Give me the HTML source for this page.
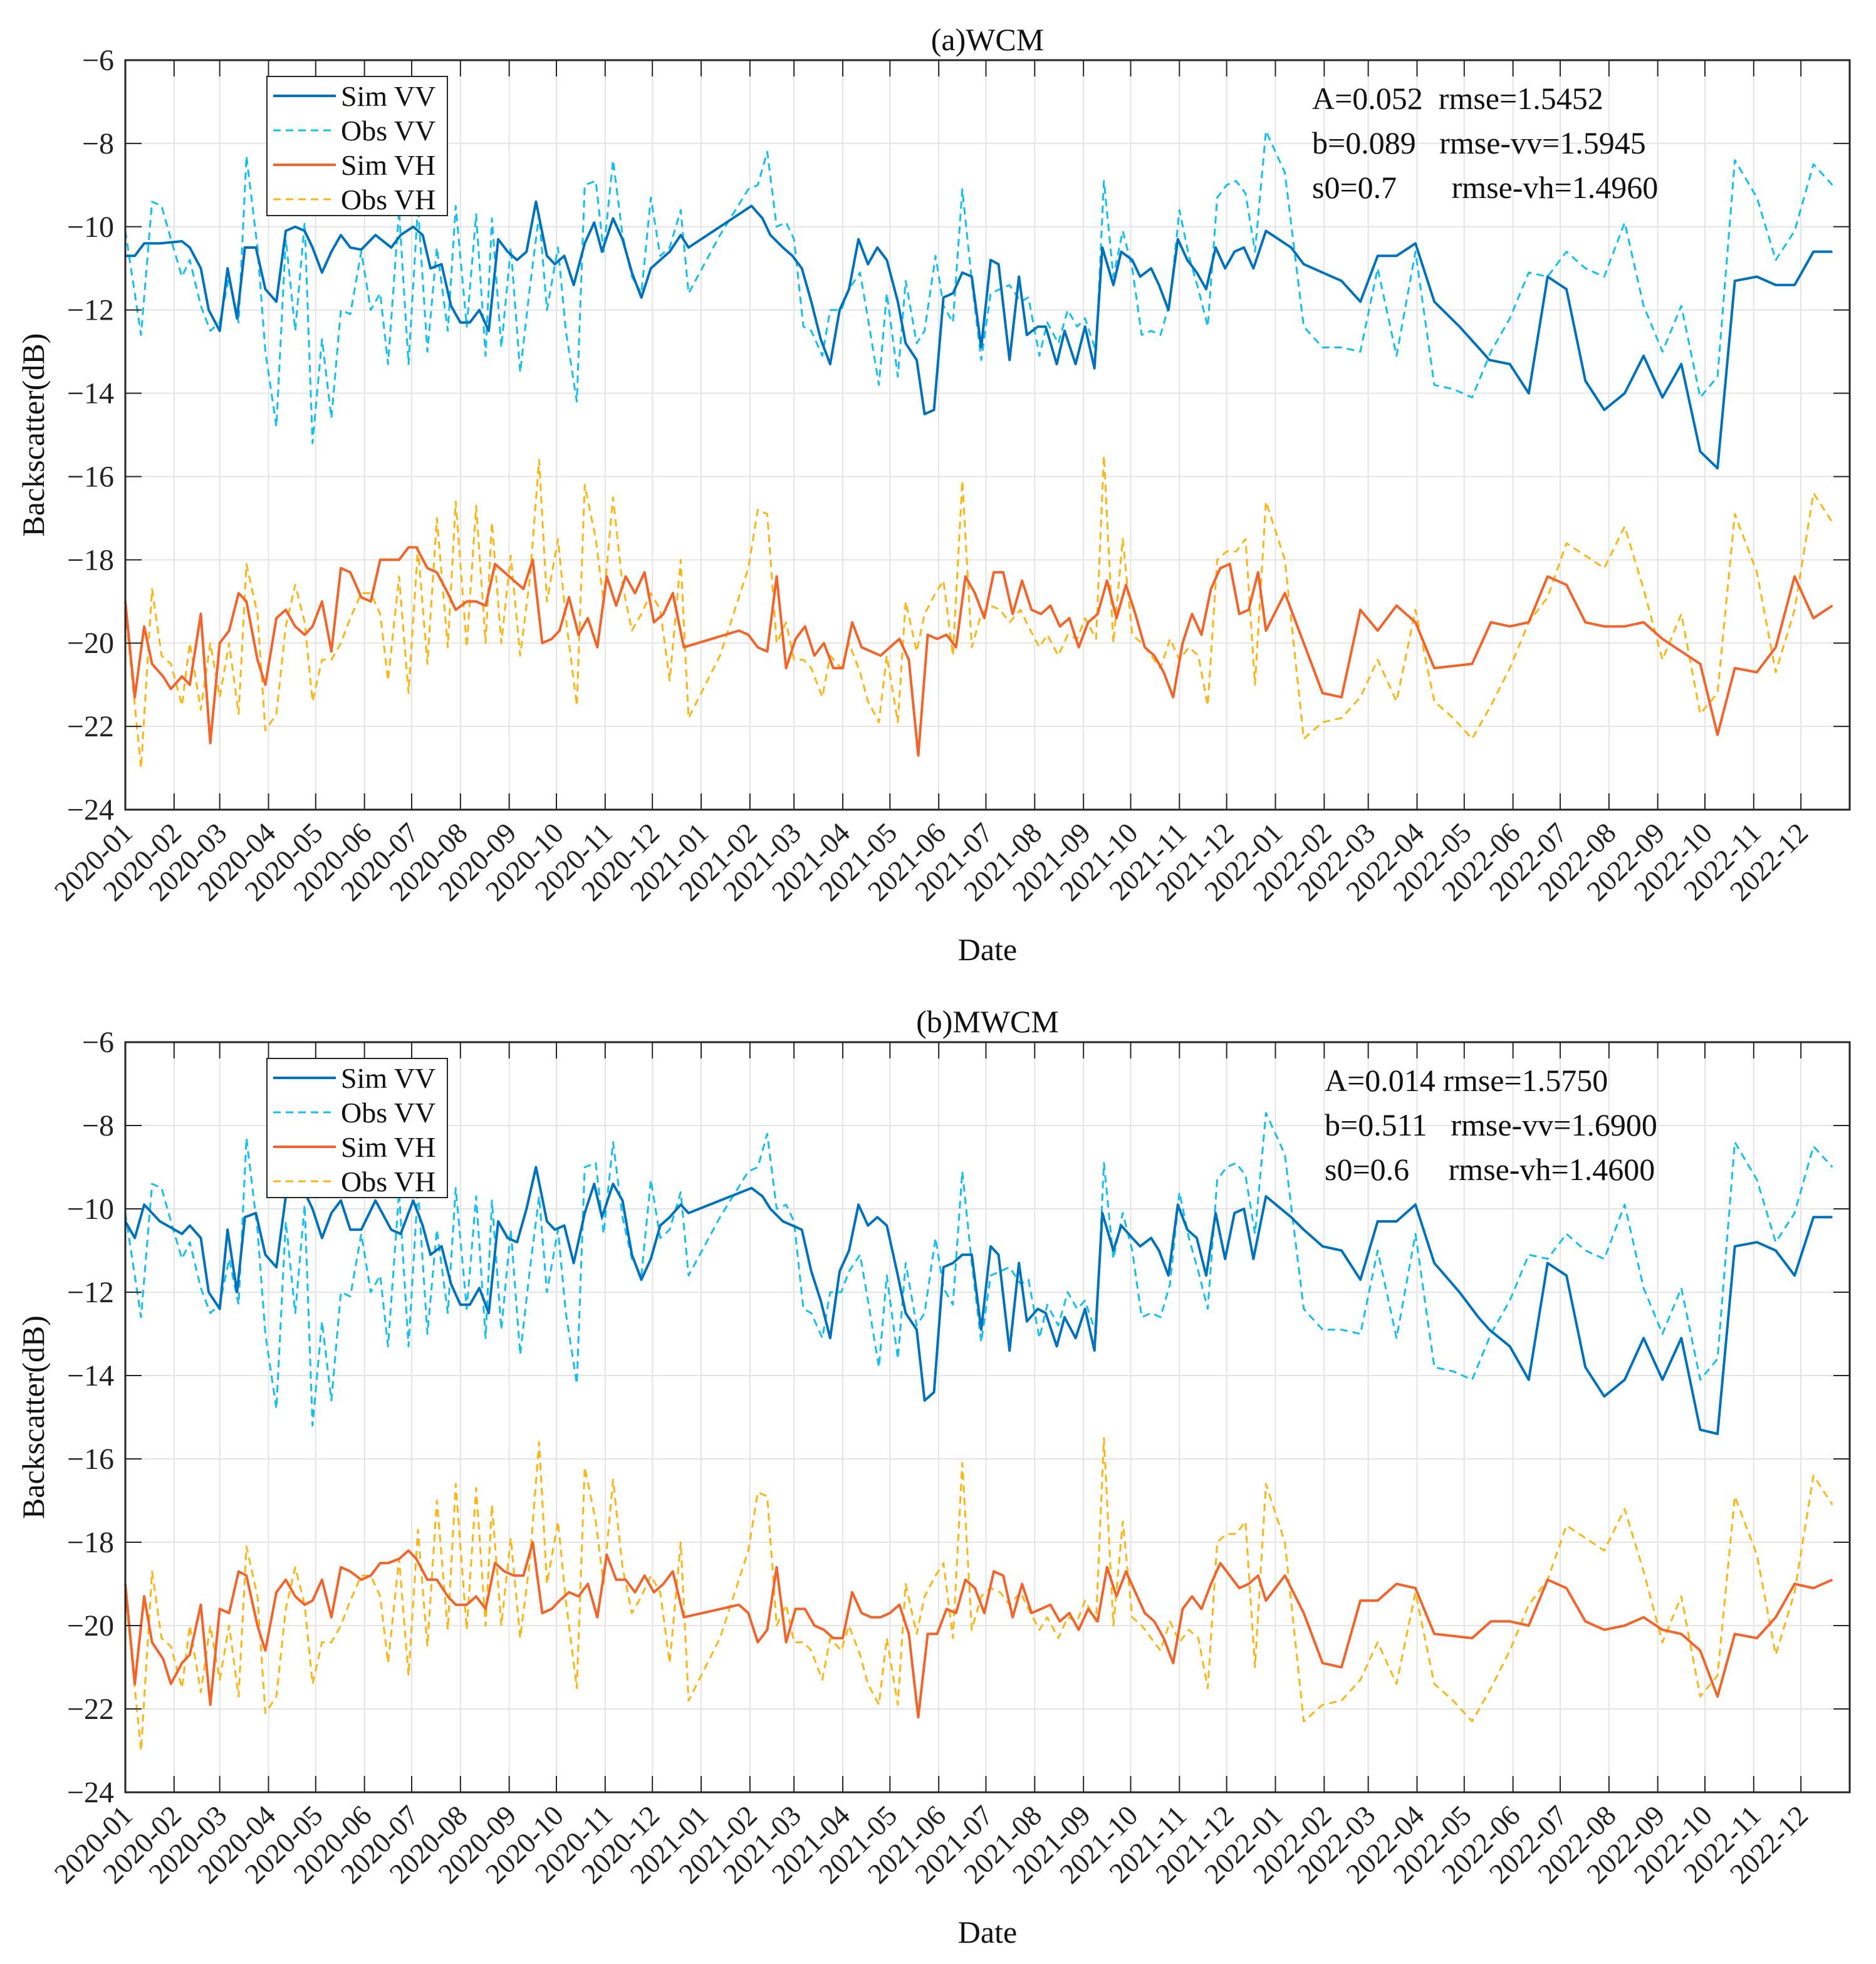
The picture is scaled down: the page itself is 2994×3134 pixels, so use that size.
<!DOCTYPE html>
<html><head><meta charset="utf-8"><style>
html,body{margin:0;padding:0;background:#fff}
svg{display:block;font-family:"Liberation Serif",serif}
</style></head><body>
<svg id="chart" width="2994" height="3134" viewBox="0 0 2994 3134" xmlns="http://www.w3.org/2000/svg"></svg>
<script>
// ---- data ----
const monthLabels = ["2020-01","2020-02","2020-03","2020-04","2020-05","2020-06","2020-07","2020-08","2020-09","2020-10","2020-11","2020-12","2021-01","2021-02","2021-03","2021-04","2021-05","2021-06","2021-07","2021-08","2021-09","2021-10","2021-11","2021-12","2022-01","2022-02","2022-03","2022-04","2022-05","2022-06","2022-07","2022-08","2022-09","2022-10","2022-11","2022-12"];
const yTicks = [-6,-8,-10,-12,-14,-16,-18,-20,-22,-24];
// days since 2020-01-01
const simVVDays = [0,6,12,22,36,41,48,53,60,65,71,76,83,89,96,102,108,114,119,125,131,137,143,150,159,169,175,183,189,194,201,207,213,219,225,231,237,243,249,255,261,268,273,279,285,292,298,303,310,316,322,328,334,340,346,353,358,
398,405,410,418,424,430,436,442,448,454,460,466,472,478,484,491,496,503,508,514,520,526,532,538,544,550,555,562,568,573,580,585,592,597,604,610,616,621,628,633,640,645,652,657,663,669,675,681,687,693,699,705,711,717,725,
741,749,761,773,785,796,808,820,832,848,860,867,880,892,904,916,928,940,953,965,977,989,1001,1012,1023,1037,1049,1061,1073,1085];
const simVH_Days = [0,6,12,17,24,29,36,41,48,54,60,66,72,77,84,89,96,102,108,114,119,125,131,137,143,150,156,162,167,174,180,185,192,198,205,210,217,223,229,235,241,247,253,259,265,271,276,282,288,294,300,306,312,318,324,330,336,342,348,355,
390,396,402,408,414,420,426,432,438,444,450,456,462,468,474,480,486,492,498,504,510,516,522,528,534,540,546,552,558,564,570,576,582,588,594,600,606,612,618,624,630,636,642,648,654,660,666,672,678,684,690,696,702,708,714,720,725,
737,749,761,773,785,796,808,820,832,856,868,880,892,904,916,928,940,953,965,977,989,1001,1012,1023,1037,1049,1061,1073,1085];
const obsDays = [0,10,17,23,29,36,41,48,54,60,66,72,77,84,89,96,102,108,114,119,125,131,137,143,150,156,162,167,174,180,186,192,198,205,210,217,223,229,233,239,245,251,257,263,268,275,280,287,292,299,304,310,316,322,328,334,340,346,353,358,378,
396,402,408,414,420,425,431,436,443,448,455,460,467,472,479,484,491,496,503,508,515,520,526,532,538,544,550,556,562,569,574,581,586,593,599,605,610,617,622,628,634,640,646,652,658,664,670,676,682,688,694,700,706,712,718,725,
737,749,761,773,785,796,808,820,832,844,856,868,880,892,904,916,928,940,953,965,977,989,1001,1012,1023,1037,1049,1061,1073,1085];

const obsVV = [-10.1,-12.6,-9.4,-9.5,-10.3,-11.2,-10.8,-11.9,-12.5,-12.3,-11.2,-12.3,-8.3,-10.5,-13.0,-14.8,-10.3,-12.5,-9.9,-15.2,-12.7,-14.6,-12.0,-12.1,-10.6,-12.0,-11.6,-13.3,-9.6,-13.3,-9.5,-13.0,-10.5,-12.5,-9.5,-12.4,-9.7,-13.1,-9.8,-12.9,-10.5,-13.5,-11.5,-9.7,-12.0,-10.5,-12.5,-14.2,-9.0,-8.9,-10.6,-8.4,-10.2,-11.2,-11.6,-9.3,-10.7,-10.5,-9.6,-11.6,-10.2,
-9.1,-9.0,-8.2,-10.0,-9.9,-10.3,-12.4,-12.5,-13.1,-12.0,-12.0,-11.5,-11.1,-12.2,-13.8,-11.6,-13.6,-11.3,-12.8,-12.5,-10.7,-11.9,-12.3,-9.1,-11.3,-13.2,-11.6,-11.5,-11.4,-11.8,-11.7,-13.1,-12.3,-12.8,-12.0,-12.4,-12.2,-13.0,-8.9,-11.2,-10.1,-11.0,-12.6,-12.5,-12.6,-11.8,-9.6,-10.7,-11.5,-12.4,-9.3,-9.0,-8.9,-9.2,-10.6,-7.7,
-8.7,-12.4,-12.9,-12.9,-13.0,-11.0,-13.1,-10.6,-13.8,-13.9,-14.1,-13.0,-12.2,-11.1,-11.2,-10.6,-11.0,-11.2,-9.9,-11.9,-13.0,-11.9,-14.1,-13.6,-8.4,-9.3,-10.8,-10.1,-8.5,-9.0];
const obsVH = [-19.2,-23.0,-18.7,-20.3,-20.5,-21.5,-20.0,-21.6,-20.0,-21.3,-20.0,-21.7,-18.1,-19.3,-22.1,-21.7,-19.6,-18.6,-19.5,-21.4,-20.4,-20.4,-20.0,-19.4,-18.8,-18.8,-19.3,-20.9,-18.4,-21.2,-17.7,-20.5,-17.0,-20.1,-16.6,-20.1,-16.7,-20.0,-17.1,-20.0,-17.9,-20.3,-18.5,-15.6,-19.0,-17.5,-19.4,-21.5,-16.2,-17.5,-19.0,-16.5,-18.6,-19.7,-19.3,-18.8,-19.2,-20.9,-18.0,-21.8,-20.3,
-18.2,-16.8,-16.9,-20.0,-19.5,-20.4,-20.4,-20.6,-21.3,-20.3,-20.6,-20.0,-20.7,-21.4,-21.9,-20.3,-21.9,-19.0,-20.2,-19.3,-18.8,-18.5,-20.3,-16.1,-20.1,-19.3,-19.1,-19.2,-19.5,-19.2,-19.6,-20.1,-19.8,-20.3,-19.8,-19.9,-19.4,-19.9,-15.5,-20.0,-17.5,-19.8,-20.0,-20.3,-20.6,-19.9,-20.4,-20.1,-20.3,-21.5,-18.0,-17.8,-17.8,-17.5,-21.0,-16.6,
-18.0,-22.3,-21.9,-21.8,-21.3,-20.4,-21.4,-19.2,-21.4,-21.8,-22.3,-21.5,-20.6,-19.5,-18.9,-17.6,-17.9,-18.2,-17.2,-18.7,-20.4,-19.3,-21.7,-21.2,-16.9,-18.3,-20.7,-19.2,-16.4,-17.1];

const simVV_WCM = [-10.7,-10.7,-10.4,-10.4,-10.35,-10.5,-11.0,-12.0,-12.5,-11.0,-12.2,-10.5,-10.5,-11.5,-11.8,-10.1,-10.0,-10.1,-10.5,-11.1,-10.6,-10.2,-10.5,-10.55,-10.2,-10.5,-10.2,-10.0,-10.2,-11.0,-10.9,-11.9,-12.3,-12.3,-12.0,-12.5,-10.3,-10.6,-10.8,-10.6,-9.4,-10.7,-10.9,-10.7,-11.4,-10.4,-9.9,-10.6,-9.8,-10.3,-11.1,-11.7,-11.0,-10.8,-10.6,-10.2,-10.5,
-9.5,-9.8,-10.2,-10.5,-10.7,-11.0,-11.8,-12.7,-13.3,-12.0,-11.5,-10.3,-10.9,-10.5,-10.8,-11.8,-12.8,-13.2,-14.5,-14.4,-11.7,-11.6,-11.1,-11.2,-12.9,-10.8,-10.9,-13.2,-11.2,-12.6,-12.4,-12.4,-13.3,-12.5,-13.3,-12.4,-13.4,-10.5,-11.4,-10.6,-10.8,-11.2,-11.0,-11.4,-12.0,-10.3,-10.8,-11.1,-11.5,-10.5,-11.0,-10.6,-10.5,-11.0,-10.1,
-10.5,-10.9,-11.1,-11.3,-11.8,-10.7,-10.7,-10.4,-11.8,-12.4,-12.9,-13.2,-13.3,-14.0,-11.2,-11.5,-13.7,-14.4,-14.0,-13.1,-14.1,-13.3,-15.4,-15.8,-11.3,-11.2,-11.4,-11.4,-10.6,-10.6];
const simVH_WCM = [-19.0,-21.3,-19.6,-20.5,-20.8,-21.1,-20.8,-21.0,-19.3,-22.4,-20.0,-19.7,-18.8,-19.0,-20.4,-21.0,-19.4,-19.2,-19.6,-19.8,-19.6,-19.0,-20.2,-18.2,-18.3,-18.9,-19.0,-18.0,-18.0,-18.0,-17.7,-17.7,-18.2,-18.3,-18.8,-19.2,-19.0,-19.0,-19.1,-18.1,-18.3,-18.5,-18.7,-18.0,-20.0,-19.9,-19.7,-18.9,-19.8,-19.4,-20.1,-18.4,-19.1,-18.4,-18.8,-18.3,-19.5,-19.3,-18.8,-20.1,
-19.7,-19.8,-20.1,-20.2,-18.4,-20.6,-19.9,-19.6,-20.3,-20.0,-20.6,-20.6,-19.5,-20.1,-20.2,-20.3,-20.1,-19.9,-20.4,-22.7,-19.8,-19.9,-19.8,-20.1,-18.4,-18.8,-19.4,-18.3,-18.3,-19.3,-18.5,-19.2,-19.3,-19.1,-19.6,-19.4,-20.1,-19.5,-19.3,-18.5,-19.4,-18.6,-19.3,-20.1,-20.3,-20.7,-21.3,-20.0,-19.3,-19.8,-18.7,-18.2,-18.1,-19.3,-19.2,-18.3,-19.7,
-18.8,-20.0,-21.2,-21.3,-19.2,-19.7,-19.1,-19.5,-20.6,-20.5,-19.5,-19.6,-19.5,-18.4,-18.6,-19.5,-19.6,-19.6,-19.5,-19.9,-20.2,-20.5,-22.2,-20.6,-20.7,-20.1,-18.4,-19.4,-19.1];
const simVV_MWCM = [-10.3,-10.7,-9.9,-10.3,-10.6,-10.4,-10.7,-12.0,-12.4,-10.5,-12.0,-10.2,-10.1,-11.1,-11.4,-9.7,-9.5,-9.6,-10.0,-10.7,-10.1,-9.8,-10.5,-10.5,-9.8,-10.5,-10.6,-9.8,-10.4,-11.1,-10.9,-11.8,-12.3,-12.3,-11.9,-12.5,-10.3,-10.7,-10.8,-10.0,-9.0,-10.3,-10.5,-10.4,-11.3,-10.1,-9.4,-10.2,-9.4,-9.8,-11.1,-11.7,-11.2,-10.4,-10.2,-9.9,-10.1,
-9.5,-9.7,-10.0,-10.3,-10.4,-10.5,-11.5,-12.2,-13.1,-11.5,-11.0,-9.9,-10.4,-10.2,-10.4,-11.6,-12.5,-12.9,-14.6,-14.4,-11.4,-11.3,-11.1,-11.1,-12.9,-10.9,-11.1,-13.4,-11.3,-12.7,-12.4,-12.5,-13.3,-12.6,-13.1,-12.4,-13.4,-10.1,-11.0,-10.4,-10.7,-10.9,-10.7,-11.0,-11.6,-9.9,-10.5,-10.7,-11.6,-10.1,-11.2,-10.1,-10.0,-11.2,-9.7,
-10.2,-10.5,-10.9,-11.0,-11.7,-10.3,-10.3,-9.9,-11.3,-12.0,-12.6,-12.9,-13.3,-14.1,-11.3,-11.6,-13.8,-14.5,-14.1,-13.1,-14.1,-13.1,-15.3,-15.4,-10.9,-10.8,-11.0,-11.6,-10.2,-10.2];
const simVH_MWCM = [-19.0,-21.4,-19.3,-20.4,-20.8,-21.4,-20.9,-20.7,-19.5,-21.9,-19.6,-19.7,-18.7,-18.8,-20.0,-20.6,-19.2,-18.9,-19.3,-19.5,-19.4,-18.9,-19.8,-18.6,-18.7,-18.9,-18.8,-18.5,-18.5,-18.4,-18.2,-18.4,-18.9,-18.9,-19.3,-19.5,-19.5,-19.3,-19.6,-18.5,-18.7,-18.8,-18.8,-18.0,-19.7,-19.6,-19.4,-19.2,-19.3,-19.0,-19.8,-18.3,-18.9,-18.9,-19.2,-18.8,-19.2,-19.0,-18.7,-19.8,
-19.5,-19.7,-20.4,-20.1,-18.6,-20.4,-19.6,-19.6,-20.0,-20.1,-20.3,-20.3,-19.2,-19.7,-19.8,-19.8,-19.7,-19.5,-20.2,-22.2,-20.2,-20.2,-19.6,-19.7,-18.9,-19.1,-19.7,-18.7,-18.8,-19.8,-19.0,-19.7,-19.6,-19.5,-19.9,-19.7,-20.1,-19.6,-19.9,-18.6,-19.3,-18.7,-19.2,-19.7,-19.9,-20.3,-20.9,-19.6,-19.3,-19.6,-19.0,-18.5,-18.8,-19.1,-19.0,-18.8,-19.4,
-18.8,-19.7,-20.9,-21.0,-19.4,-19.4,-19.0,-19.1,-20.2,-20.3,-19.9,-19.9,-20.0,-18.9,-19.1,-19.9,-20.1,-20.0,-19.8,-20.1,-20.2,-20.6,-21.7,-20.2,-20.3,-19.8,-19.0,-19.1,-18.9];
const statsWCM = ["A=0.052  rmse=1.5452","b=0.089   rmse-vv=1.5945","s0=0.7       rmse-vh=1.4960"];
const statsMWCM = ["A=0.014 rmse=1.5750","b=0.511   rmse-vv=1.6900","s0=0.6     rmse-vh=1.4600"];

// ---- drawing ----
const NS="http://www.w3.org/2000/svg";
const svg=document.getElementById('chart');
function mk(tag,attrs,parent){const e=document.createElementNS(NS,tag);for(const k in attrs)e.setAttribute(k,attrs[k]);(parent||svg).appendChild(e);return e;}
const L=200,R=2952,TOTAL_DAYS=1096;
const monthStartDay = monthLabels.map(m=>{const [y,mo]=m.split('-').map(Number);return Math.round((Date.UTC(y,mo-1,1)-Date.UTC(2020,0,1))/86400000);});
function xS(d){return L+(R-L)*d/TOTAL_DAYS;}
const COLORS={simVV:'#0072BD',obsVV:'#12bff0',simVH:'#F2642A',obsVH:'#FDB515'};

function panel(key,top,bot,title,simVV,simVH,stats){
  const g=mk('g',{});
  
  
  const yS=v=>top+(bot-top)*(-6-v)/18;
  // grid
  monthStartDay.forEach(d=>{const l=mk('line',{x1:xS(d),x2:xS(d),y1:top,y2:bot,stroke:'#e4e4e4','stroke-width':2},g);});
  yTicks.forEach(v=>{const l=mk('line',{x1:L,x2:R,y1:yS(v),y2:yS(v),stroke:'#e4e4e4','stroke-width':2},g);});
  // series
  function series(days,vals,color,dash,w,name){
    const n=Math.min(days.length,vals.length);let p='';
    for(let i=0;i<n;i++)p+=(i?'L':'M')+xS(days[i]).toFixed(1)+','+yS(vals[i]).toFixed(1);
    const a={d:p,fill:'none',stroke:color,'stroke-width':w,'stroke-linejoin':'round'};
    if(dash)a['stroke-dasharray']=dash;
    const e=mk('path',a,g);
    
    
  }
  series(obsDays,obsVV,COLORS.obsVV,'12,8',3,'obs-vv-line');
  series(obsDays,obsVH,COLORS.obsVH,'12,8',3,'obs-vh-line');
  series(simVVDays,simVV,COLORS.simVV,null,4,'sim-vv-line');
  series(simVH_Days,simVH,COLORS.simVH,null,4,'sim-vh-line');
  // axes box
  const box=mk('rect',{x:L,y:top,width:R-L,height:bot-top,fill:'none',stroke:'#262626','stroke-width':3},g);
  
  // ticks
  monthStartDay.forEach((d,i)=>{
    mk('line',{x1:xS(d),x2:xS(d),y1:bot,y2:bot-26,stroke:'#262626','stroke-width':2},g);
    mk('line',{x1:xS(d),x2:xS(d),y1:top,y2:top+26,stroke:'#262626','stroke-width':2},g);
    const t=mk('text',{x:0,y:0,'font-size':46,'text-anchor':'end',fill:'#222',transform:`translate(${xS(d)+14},${bot+40}) rotate(-45)`},g);
    t.textContent=monthLabels[i];
    
  });
  yTicks.forEach(v=>{
    mk('line',{x1:L,x2:L+26,y1:yS(v),y2:yS(v),stroke:'#262626','stroke-width':2},g);
    mk('line',{x1:R,x2:R-26,y1:yS(v),y2:yS(v),stroke:'#262626','stroke-width':2},g);
    const t=mk('text',{x:L-18,y:yS(v)+16,'font-size':48,'text-anchor':'end',fill:'#222'},g);
    t.textContent='\u2212'+Math.abs(v);
    
  });
  const tt=mk('text',{x:(L+R)/2,y:top-16,'font-size':50,'text-anchor':'middle',fill:'#111'},g);
  tt.textContent=title;
  const yl=mk('text',{x:0,y:0,'font-size':50,'text-anchor':'middle',fill:'#111',transform:`translate(70,${(top+bot)/2}) rotate(-90)`},g);
  yl.textContent='Backscatter(dB)';
  const xl=mk('text',{x:1576,y:bot+240,'font-size':50,'text-anchor':'middle',fill:'#111'},g);
  xl.textContent='Date';
  // legend
  const lg=mk('g',{},g);
  mk('rect',{x:426,y:top+26,width:288,height:222,fill:'#fff',stroke:'#262626','stroke-width':2},lg);
  const ent=[['Sim VV',COLORS.simVV,null],['Obs VV',COLORS.obsVV,'12,8'],['Sim VH',COLORS.simVH,null],['Obs VH',COLORS.obsVH,'12,8']];
  ent.forEach((e,i)=>{
    const yy=top+57+i*55;
    const ln=mk('line',{x1:436,x2:536,y1:yy,y2:yy,stroke:e[1],'stroke-width':e[2]?3:4},lg);
    if(e[2])ln.setAttribute('stroke-dasharray',e[2]);
    const t=mk('text',{x:544,y:yy+16,'font-size':46,fill:'#111'},lg);t.textContent=e[0];
    
  });
  // stats
  stats.forEach((s,i)=>{
    const t=mk('text',{x:key==='wcm'?2094:2114,y:top+78+i*71,'font-size':50,fill:'#111','xml:space':'preserve'},g);
    t.style.whiteSpace='pre';
    t.textContent=s;
    
  });
}
panel('wcm',96,1292,'(a)WCM',simVV_WCM,simVH_WCM,statsWCM);
panel('mwcm',1663,2860,'(b)MWCM',simVV_MWCM,simVH_MWCM,statsMWCM);
</script>
</body></html>
